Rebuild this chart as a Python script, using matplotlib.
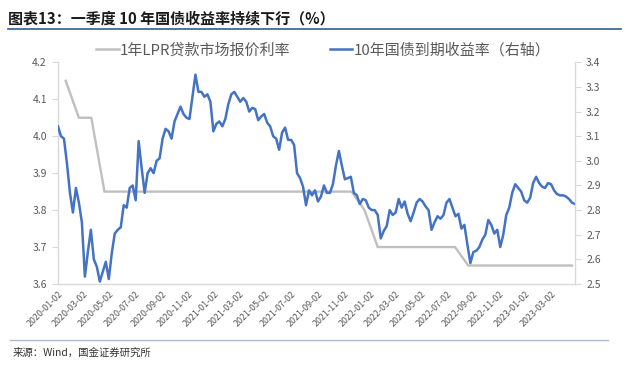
import matplotlib
matplotlib.use("Agg")
import matplotlib.pyplot as plt
from matplotlib.lines import Line2D
import pandas as pd

plt.rcParams['font.family'] = ['Noto Sans CJK SC', 'DejaVu Sans']

# ---------------- data ----------------
title = "图表13：一季度 10 年国债收益率持续下行（%）"
source = "来源：Wind，国金证券研究所"
lpr_label = "1年LPR贷款市场报价利率"
yield_label = "10年国债到期收益率（右轴）"

# 10Y government bond yield, weekly readings starting 2020-01-02 (right axis)
yield_start = "2020-01-02"
yield10 = [
    3.14, 3.10, 3.09, 2.99, 2.87, 2.79, 2.89, 2.83, 2.75, 2.53,
    2.63, 2.72, 2.60, 2.57, 2.51, 2.55, 2.59, 2.52, 2.625, 2.705,
    2.72, 2.73, 2.82, 2.81, 2.89, 2.90, 2.84, 3.08, 2.97, 2.87,
    2.95, 2.97, 2.95, 3.00, 3.01, 3.09, 3.13, 3.12, 3.09, 3.16,
    3.19, 3.22, 3.19, 3.175, 3.17, 3.26, 3.35, 3.28, 3.28, 3.26,
    3.27, 3.24, 3.12, 3.15, 3.16, 3.14, 3.17, 3.23, 3.27, 3.28,
    3.26, 3.24, 3.255, 3.24, 3.20, 3.215, 3.21, 3.165, 3.18, 3.19,
    3.155, 3.14, 3.10, 3.09, 3.045, 3.115, 3.135, 3.085, 3.085, 3.065,
    2.95, 2.93, 2.895, 2.82, 2.88, 2.86, 2.88, 2.835, 2.855, 2.90,
    2.87, 2.87, 2.905, 2.98, 3.04, 2.98, 2.925, 2.93, 2.935, 2.87,
    2.86, 2.825, 2.845, 2.84, 2.81, 2.80, 2.80, 2.78, 2.685, 2.715,
    2.735, 2.80, 2.78, 2.79, 2.845, 2.81, 2.835, 2.785, 2.755, 2.79,
    2.83, 2.845, 2.835, 2.815, 2.80, 2.72, 2.75, 2.775, 2.765, 2.78,
    2.83, 2.845, 2.81, 2.775, 2.785, 2.725, 2.74, 2.66, 2.585, 2.63,
    2.635, 2.65, 2.68, 2.70, 2.76, 2.74, 2.705, 2.72, 2.65, 2.70,
    2.78, 2.81, 2.87, 2.905, 2.89, 2.875, 2.84, 2.83, 2.85, 2.91,
    2.935, 2.91, 2.895, 2.89, 2.91, 2.905, 2.88, 2.865, 2.86, 2.86,
    2.855, 2.845, 2.83, 2.825,
]

# 1Y LPR, monthly fixings on the 20th starting 2020-01-20 (left axis)
lpr = [
    4.15, 4.05, 4.05, 3.85, 3.85, 3.85, 3.85, 3.85, 3.85, 3.85, 3.85, 3.85,
    3.85, 3.85, 3.85, 3.85, 3.85, 3.85, 3.85, 3.85, 3.85, 3.85, 3.85, 3.80,
    3.70, 3.70, 3.70, 3.70, 3.70, 3.70, 3.70, 3.65, 3.65, 3.65, 3.65, 3.65,
    3.65, 3.65, 3.65, 3.65,
]

x_tick_labels = [
    "2020-01-02", "2020-03-02", "2020-05-02", "2020-07-02", "2020-09-02",
    "2020-11-02", "2021-01-02", "2021-03-02", "2021-05-02", "2021-07-02",
    "2021-09-02", "2021-11-02", "2022-01-02", "2022-03-02", "2022-05-02",
    "2022-07-02", "2022-09-02", "2022-11-02", "2023-01-02", "2023-03-02",
]
left_ticks = [3.6, 3.7, 3.8, 3.9, 4.0, 4.1, 4.2]
right_ticks = [2.5, 2.6, 2.7, 2.8, 2.9, 3.0, 3.1, 3.2, 3.3, 3.4]
x_end = "2023-04-27"

yield_dates = pd.date_range(yield_start, periods=len(yield10), freq="7D")
lpr_dates = pd.date_range("2020-01-01", periods=len(lpr), freq="MS") + pd.Timedelta(days=19)

# ---------------- figure ----------------
BLUE = "#4472C4"
GRAY = "#BFBFBF"
SPINE = "#D9D9D9"
TXT = "#595959"

fig = plt.figure(figsize=(6.4, 3.76), dpi=100)
ax = fig.add_axes([0.0906, 0.2447, 0.8078, 0.5896])
ax2 = ax.twinx()

ax.plot(lpr_dates, lpr, color=GRAY, lw=1.7, solid_joinstyle="miter")
ax2.plot(yield_dates, yield10, color=BLUE, lw=1.8)

ax.set_xlim(pd.Timestamp(yield_start), pd.Timestamp(x_end))
ax.set_ylim(left_ticks[0], left_ticks[-1])
ax2.set_ylim(right_ticks[0], right_ticks[-1])
ax.set_yticks(left_ticks)
ax2.set_yticks(right_ticks)
ax.set_yticklabels([f"{v:.1f}" for v in left_ticks])
ax2.set_yticklabels([f"{v:.1f}" for v in right_ticks])

ax.set_xticks(pd.to_datetime(x_tick_labels))
ax.set_xticklabels(x_tick_labels, rotation=45, ha="right", rotation_mode="anchor")

for a in (ax, ax2):
    for s in a.spines.values():
        s.set_color(SPINE)
        s.set_linewidth(1.0)
    a.spines["top"].set_visible(False)
ax.spines["right"].set_visible(False)
ax2.spines["left"].set_visible(False)
ax2.spines["bottom"].set_visible(False)

ax.tick_params(axis="y", colors=SPINE, labelcolor=TXT, labelsize=7.5, length=4, pad=4)
ax2.tick_params(axis="y", colors=SPINE, labelcolor=TXT, labelsize=7.5, length=4, pad=4)
ax.tick_params(axis="x", length=0, labelcolor=TXT, labelsize=6.4, pad=4)

# legend
handles = [Line2D([], [], color=GRAY, lw=1.8), Line2D([], [], color=BLUE, lw=1.8)]
fig.legend(handles, [lpr_label, yield_label], loc="center", bbox_to_anchor=(0.505, 0.866),
           ncol=2, frameon=False, fontsize=10.8, handlelength=1.5, handletextpad=0.1,
           columnspacing=2.6, labelcolor=TXT)

# title and rules
fig.text(0.013, 0.972, title, ha="left", va="top", fontsize=10.8, fontweight="bold",
         color="#1a1a1a")
fig.add_artist(Line2D([0.012, 0.97], [0.922, 0.922], transform=fig.transFigure,
                      color="#2F5F8F", lw=1.2))
fig.add_artist(Line2D([0.015, 0.95], [0.096, 0.096], transform=fig.transFigure,
                      color="#A9BCD0", lw=1.0))
fig.text(0.019, 0.063, source, ha="left", va="center", fontsize=7.5, color="#333333")

fig.savefig("out.png", dpi=100)
